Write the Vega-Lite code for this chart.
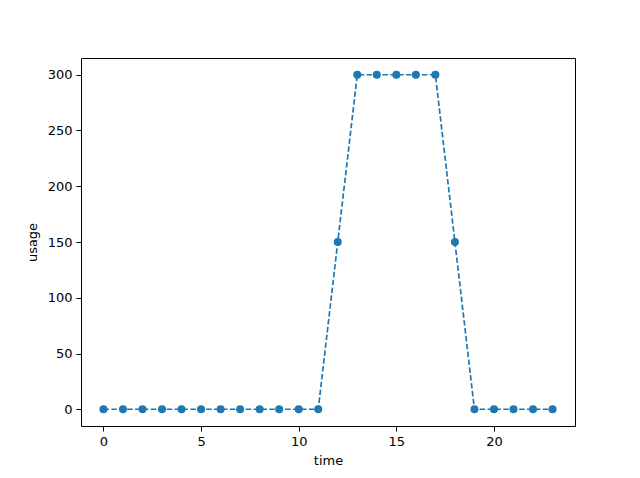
{
  "$schema": "https://vega.github.io/schema/vega-lite/v6.json",
  "width": 494,
  "height": 368,
  "autosize": "none",
  "padding": {"left": 81, "top": 58, "right": 65, "bottom": 52},
  "background": "white",
  "config": {
    "view": {"stroke": "black", "strokeWidth": 1},
    "axis": {
      "grid": false,
      "domain": false,
      "tickColor": "black",
      "tickSize": 5,
      "tickWidth": 1,
      "labelColor": "black",
      "labelFont": "DejaVu Sans",
      "labelFontSize": 13,
      "labelPadding": 4,
      "titleFont": "DejaVu Sans",
      "titleFontSize": 13,
      "titleFontWeight": "normal",
      "titleColor": "black"
    }
  },
  "data": {
    "values": [
      {"time": 0, "usage": 0}, {"time": 1, "usage": 0}, {"time": 2, "usage": 0},
      {"time": 3, "usage": 0}, {"time": 4, "usage": 0}, {"time": 5, "usage": 0},
      {"time": 6, "usage": 0}, {"time": 7, "usage": 0}, {"time": 8, "usage": 0},
      {"time": 9, "usage": 0}, {"time": 10, "usage": 0}, {"time": 11, "usage": 0},
      {"time": 12, "usage": 150}, {"time": 13, "usage": 300}, {"time": 14, "usage": 300},
      {"time": 15, "usage": 300}, {"time": 16, "usage": 300}, {"time": 17, "usage": 300},
      {"time": 18, "usage": 150}, {"time": 19, "usage": 0}, {"time": 20, "usage": 0},
      {"time": 21, "usage": 0}, {"time": 22, "usage": 0}, {"time": 23, "usage": 0}
    ]
  },
  "encoding": {
    "x": {
      "field": "time", "type": "quantitative",
      "scale": {"domain": [-1.15, 24.15], "nice": false, "zero": false},
      "axis": {"values": [0, 5, 10, 15, 20], "title": "time", "titlePadding": 6}
    },
    "y": {
      "field": "usage", "type": "quantitative",
      "scale": {"domain": [-15, 315], "nice": false, "zero": false},
      "axis": {"values": [0, 50, 100, 150, 200, 250, 300], "title": "usage", "titlePadding": 8}
    }
  },
  "layer": [
    {
      "mark": {"type": "line", "color": "#1f77b4", "strokeWidth": 1.7, "strokeDash": [5.5, 2.4]}
    },
    {
      "mark": {"type": "point", "shape": "circle", "filled": true, "opacity": 1, "color": "#1f77b4", "size": 64}
    }
  ]
}
